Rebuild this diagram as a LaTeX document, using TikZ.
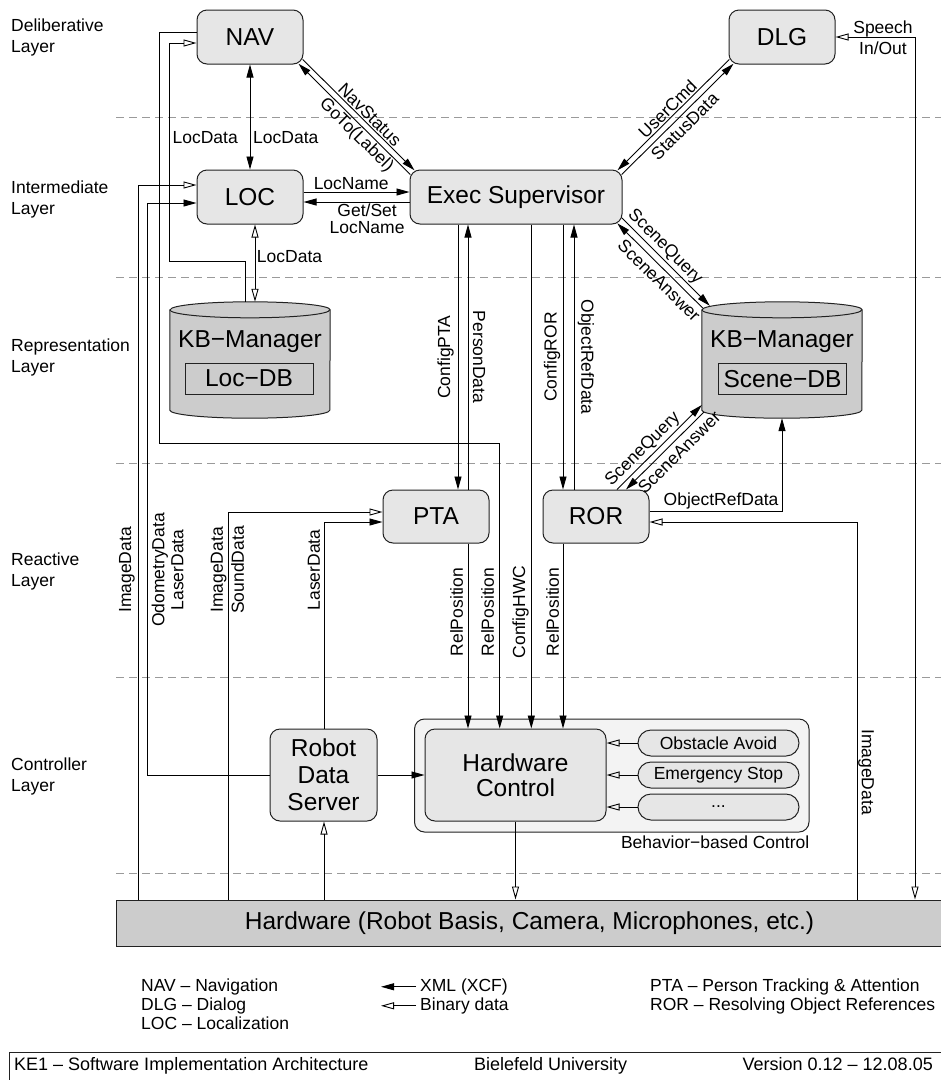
\documentclass[tikz,border=0pt]{standalone}
\usepackage{fontspec}
\setmainfont{Liberation Sans}
\usetikzlibrary{arrows.meta}

\definecolor{modfill}{HTML}{E6E6E6}
\definecolor{dbfill}{HTML}{CCCCCC}
\definecolor{bbfill}{HTML}{F3F3F3}
\definecolor{sepgray}{HTML}{9A9A9A}
\definecolor{edgecol}{HTML}{222222}

\newcommand\lblsize{\fontsize{17.5}{21}\selectfont}
\newcommand\modsize{\fontsize{24.5}{27}\selectfont}
\newcommand\footsize{\fontsize{18}{21}\selectfont}

% database cylinder drawn around an (invisible) body node
\newcommand\drawdb[1]{%
  \draw[draw=edgecol, line width=1pt, fill=dbfill]
    ([shift={(0,8)}]#1.north west) -- ([shift={(0,-8)}]#1.south west)
    arc[start angle=180, end angle=360, x radius=80pt, y radius=8pt]
    -- ([shift={(0,8)}]#1.north east)
    arc[start angle=0, end angle=180, x radius=80pt, y radius=8pt] -- cycle;
  \draw[draw=edgecol, line width=1pt] ([shift={(0,8)}]#1.north west)
    arc[start angle=180, end angle=360, x radius=80pt, y radius=8pt];}

\begin{document}
\begin{tikzpicture}[x=1pt,y=-1pt,
  module/.style={draw=edgecol, line width=1pt, fill=modfill, rounded corners=10pt,
    font=\modsize, align=center, inner sep=0pt, minimum width=106pt, minimum height=54pt},
  behav/.style={draw=edgecol, line width=1pt, fill=modfill, rounded corners=13pt,
    font=\lblsize, inner sep=0pt, minimum width=161pt, minimum height=26pt},
  dbbody/.style={inner sep=0pt, minimum width=160pt, minimum height=116pt},
  dbpart/.style={draw=edgecol, line width=1pt, inner sep=0pt, minimum width=128pt,
    minimum height=31pt, font=\modsize},
  lbl/.style={font=\lblsize, inner sep=1.5pt},
  layertxt/.style={font=\lblsize, align=left, anchor=base west, inner sep=0pt},
  sepline/.style={draw=sepgray, line width=1pt, dash pattern=on 8pt off 5pt},
  conn/.style={line width=0.9pt},
  xml/.style={conn, -{Triangle[length=13pt,width=7pt]}},
  xmlboth/.style={conn, {Triangle[length=13pt,width=7pt]}-{Triangle[length=13pt,width=7pt]}},
  bin/.style={conn, -{Triangle[open,length=13pt,width=7pt]}},
  binboth/.style={conn, {Triangle[open,length=13pt,width=7pt]}-{Triangle[open,length=13pt,width=7pt]}},
]
\fill[white] (0,0) rectangle (941,1080);
\useasboundingbox (0,0) rectangle (941,1080);

% layer separators
\foreach \yy in {117,277,463,677,873}
  \draw[sepline] (116,\yy) -- (941,\yy);

% layer names (base = baseline of the second line)
\node[layertxt] (lay1) at (11,52.7)  {Deliberative\\Layer};
\node[layertxt] (lay2) at (11,214.3) {Intermediate\\Layer};
\node[layertxt] (lay3) at (11,372.7) {Representation\\Layer};
\node[layertxt] (lay4) at (11,586)   {Reactive\\Layer};
\node[layertxt] (lay5) at (11,791)   {Controller\\Layer};

% modules
\node[module] (nav) at (250,37) {NAV};
\node[module] (dlg) at (782,37) {DLG};
\node[module] (loc) at (250,197) {LOC};
\node[module, minimum width=212pt] (exec) at (516,197) {Exec Supervisor};
\node[module, minimum height=53pt] (pta) at (436,516.5) {PTA};
\node[module, minimum height=53pt] (ror) at (596,516.5) {ROR};
\node[module, minimum width=107pt, minimum height=92pt] (rds) at (323.5,775) {Robot\\Data\\Server};

% behaviour-based control group
\node[draw=edgecol, line width=1pt, fill=bbfill, rounded corners=10pt,
  minimum width=394.5pt, minimum height=113pt, inner sep=0pt] (bbc) at (611.75,775.5) {};
\node[lbl, anchor=east, inner sep=0pt] (bbclbl) at ([shift={(0,10)}]bbc.south east) {Behavior−based Control};
\node[module, minimum width=181pt, minimum height=92pt, font=\fontsize{24.5}{25.5}\selectfont]
  (hwc) at (515.5,775) {Hardware\\Control};
\node[behav] (obst) at (718.5,743) {Obstacle Avoid};
\node[behav] (emst) at (718.5,775) {Emergency Stop};
\node[behav] (more) at (718.5,807) {...};

% knowledge bases
\node[dbbody] (kbl) at (250,360) {};
\drawdb{kbl}
\node[font=\modsize, inner sep=0pt, anchor=base] (kbltxt) at (250,347) {KB−Manager};
\node[dbpart] (locdb) at (249,378.5) {Loc−DB};

\node[dbbody] (kbr) at (782,360) {};
\drawdb{kbr}
\node[font=\modsize, inner sep=0pt, anchor=base] (kbrtxt) at (782,347) {KB−Manager};
\node[dbpart] (scenedb) at (782.5,379) {Scene−DB};

% hardware
\node[draw=edgecol, line width=1pt, fill=dbfill, minimum width=827pt, minimum height=46pt,
  inner sep=0pt, font=\modsize] (hw) at (529.5,923) {Hardware (Robot Basis, Camera, Microphones, etc.)};

% ---- connectors ----
% NAV <-> LOC
\draw[xmlboth] (nav.south) -- (loc.north);
\node[lbl, anchor=east] (ld1) at (239.5,138) {LocData};
\node[lbl, anchor=west] (ld2) at (251.5,138) {LocData};

% NAV <-> Exec
\draw[xml] ([shift={(-0.8,-5)}]nav.south east) -- node[lbl, sloped, above, pos=0.55] (navst) {NavStatus}
  ([shift={(5,0.8)}]exec.north west);
\draw[xml] ([shift={(0.8,5)}]exec.north west) -- node[lbl, sloped, below, pos=0.42] (goto) {GoTo(Label)}
  ([shift={(-5,-0.8)}]nav.south east);

% DLG <-> Exec
\draw[xml] ([shift={(0.8,-5)}]dlg.south west) -- node[lbl, sloped, above, pos=0.5] (ucmd) {UserCmd}
  ([shift={(-5,0.8)}]exec.north east);
\draw[xml] ([shift={(-0.8,5)}]exec.north east) -- node[lbl, sloped, below=2pt, pos=0.5] (stdat) {StatusData}
  ([shift={(5,-0.8)}]dlg.south west);

% speech in/out
\draw[binboth] (dlg.east) -| ([shift={(385.5,0)}]hw.north);
\node[lbl, align=center] (speech) at (883,37.5) {Speech\\In/Out};

% LOC <-> Exec
\draw[xml] ([shift={(0,-5)}]loc.east) -- node[lbl, above, pos=0.45] (lname) {LocName}
  ([shift={(0,-5)}]exec.west);
\draw[xml] ([shift={(0,5)}]exec.west) -- node[lbl, below, align=center, pos=0.4,
  font=\fontsize{17.5}{16.5}\selectfont] (gsname) {Get/Set\\LocName} ([shift={(0,5)}]loc.east);

% LOC <-> Loc-DB
\draw[binboth] ([shift={(5,0)}]loc.south) -- node[lbl, right, pos=0.41] (ld3) {LocData}
  ([shift={(5,0)}]kbl.north);

% Loc-DB -> NAV
\draw[bin] ([shift={(-5,0)}]kbl.north) -- ++(0,-40) -| ([shift={(-27,6)}]nav.west)
  -- ([shift={(0,6)}]nav.west);

% NAV -> Hardware Control
\draw[xml] ([shift={(0,-5)}]nav.west) -| ([shift={(-37,406)}]nav.west) -| ([shift={(-15.8,0)}]hwc.north);

% Exec <-> PTA
\coordinate (xcpta) at ([shift={(22,0)}]pta.north);
\coordinate (xpdat) at ([shift={(32,0)}]pta.north);
\draw[xml] (xcpta |- exec.south) -- (xcpta);
\draw[xml] (xpdat) -- (xpdat |- exec.south);
\node[lbl, rotate=90] (cpta) at (445.5,357) {ConfigPTA};
\node[lbl, rotate=-90] (pdat) at (479,357) {PersonData};

% Exec <-> ROR
\coordinate (xcror) at ([shift={(-33,0)}]ror.north);
\coordinate (xordat) at ([shift={(-22,0)}]ror.north);
\draw[xml] (xcror |- exec.south) -- (xcror);
\draw[xml] (xordat) -- (xordat |- exec.south);
\node[lbl, rotate=90] (cror) at (552,357) {ConfigROR};
\node[lbl, rotate=-90] (ordat) at (586,357) {ObjectRefData};

% Exec -> Hardware Control
\coordinate (xchwc) at ([shift={(15.8,0)}]hwc.north);
\draw[xml] (xchwc |- exec.south) -- (xchwc);

% PTA, ROR -> Hardware Control
\coordinate (xrp1) at ([shift={(32,0)}]pta.south);
\coordinate (xrp3) at ([shift={(-33,0)}]ror.south);
\draw[xml] (xrp1) -- (xrp1 |- hwc.north);
\draw[xml] (xrp3) -- (xrp3 |- hwc.north);
\node[lbl, rotate=90] (rp1) at (456.7,612) {RelPosition};
\node[lbl, rotate=90] (rp2) at (487.5,612) {RelPosition};
\node[lbl, rotate=90] (chwc) at (520.5,612) {ConfigHWC};
\node[lbl, rotate=90] (rp3) at (552.5,612) {RelPosition};

% Exec <-> Scene-DB
\draw[xml] ([shift={(-0.6,-6.6)}]exec.south east) -- node[lbl, sloped, above, pos=0.41] (sq1) {SceneQuery}
  ([shift={(8,4)}]kbr.north west);
\draw[xml] ([shift={(1.3,6.6)}]kbr.north west) -- node[lbl, sloped, below=3pt, pos=0.42] (sa1) {SceneAnswer}
  ([shift={(-5.2,-1.2)}]exec.south east);

% ROR <-> Scene-DB
\draw[xml] ([shift={(21,0)}]ror.north) -- node[lbl, sloped, above, pos=0.39] (sq2) {SceneQuery}
  ([shift={(0,45)}]kbr.west);
\draw[xml] ([shift={(2.3,51.9)}]kbr.west) -- node[lbl, sloped, below=3pt, pos=0.42] (sa2) {SceneAnswer}
  ([shift={(30,0)}]ror.north);
\draw[xml] ([shift={(0,-5.5)}]ror.east) -| node[lbl, above, pos=0.27] (ordat2) {ObjectRefData} (kbr.south);

% Hardware -> ROR
\draw[bin] ([shift={(327.5,0)}]hw.north) |- ([shift={(0,5.5)}]ror.east);
\node[lbl, rotate=-90] (imgr) at (866,772) {ImageData};

% left-hand sensor paths
\draw[bin] ([shift={(-391.5,0)}]hw.north) |- ([shift={(0,-12)}]loc.west);
\node[lbl, rotate=90] (imgl) at (127,570) {ImageData};
\draw[xml] (rds.west) -| ([shift={(-49,6)}]loc.west) -- ([shift={(0,6)}]loc.west);
\node[lbl, rotate=90, align=center, font=\fontsize{17.5}{19}\selectfont] (odom) at (167.5,570) {OdometryData\\LaserData};
\draw[bin] ([shift={(-301.5,0)}]hw.north) |- ([shift={(0,-4.5)}]pta.west);
\node[lbl, rotate=90, align=center] (imgsnd) at (227.5,570) {ImageData\\SoundData};
\draw[xml] ([shift={(0.5,0)}]rds.north) |- ([shift={(0,5.5)}]pta.west);
\node[lbl, rotate=90] (lsr) at (314,570) {LaserData};

% controller layer
\draw[xml] (rds.east) -- (hwc.west);
\coordinate (xrds) at ([shift={(0.5,0)}]rds.south);
\draw[bin] (xrds |- hw.north) -- (xrds);
\draw[bin] (hwc.south) -- (hwc.south |- hw.north);
\draw[bin] (obst.west) -- (obst.west -| hwc.east);
\draw[bin] (emst.west) -- (emst.west -| hwc.east);
\draw[bin] (more.west) -- (more.west -| hwc.east);

% ---- legend ----
\node[lbl, anchor=base west, inner sep=0pt] (lg1) at (141,991.3)  {NAV – Navigation};
\node[lbl, anchor=base west, inner sep=0pt] (lg2) at (141,1010.3) {DLG – Dialog};
\node[lbl, anchor=base west, inner sep=0pt] (lg3) at (141,1029.3) {LOC – Localization};
\node[lbl, anchor=base west, inner sep=0pt] (lgx) at (420,991.3)  {XML (XCF)};
\node[lbl, anchor=base west, inner sep=0pt] (lgb) at (420,1010.3) {Binary data};
\draw[xml] ([shift={(-4,0)}]lgx.west) -- ++(-35,0);
\draw[bin] ([shift={(-4,0)}]lgb.west) -- ++(-35,0);
\node[lbl, anchor=base west, inner sep=0pt] (lg4) at (650,991.3)  {PTA – Person Tracking \& Attention};
\node[lbl, anchor=base west, inner sep=0pt] (lg5) at (650,1010.3) {ROR – Resolving Object References};

% ---- footer ----
\node[draw=edgecol, line width=1pt, anchor=north west, minimum width=940pt, minimum height=40pt,
  inner sep=0pt] (foot) at (9,1052) {};
\node[font=\footsize, anchor=base west, inner sep=0pt] (ft1) at (14,1070.5) {KE1 – Software Implementation Architecture};
\node[font=\footsize, anchor=base west, inner sep=0pt] (ft2) at (474,1070.5) {Bielefeld University};
\node[font=\footsize, anchor=base east, inner sep=0pt] (ft3) at (933,1070.5) {Version 0.12 – 12.08.05};
\end{tikzpicture}
\end{document}
